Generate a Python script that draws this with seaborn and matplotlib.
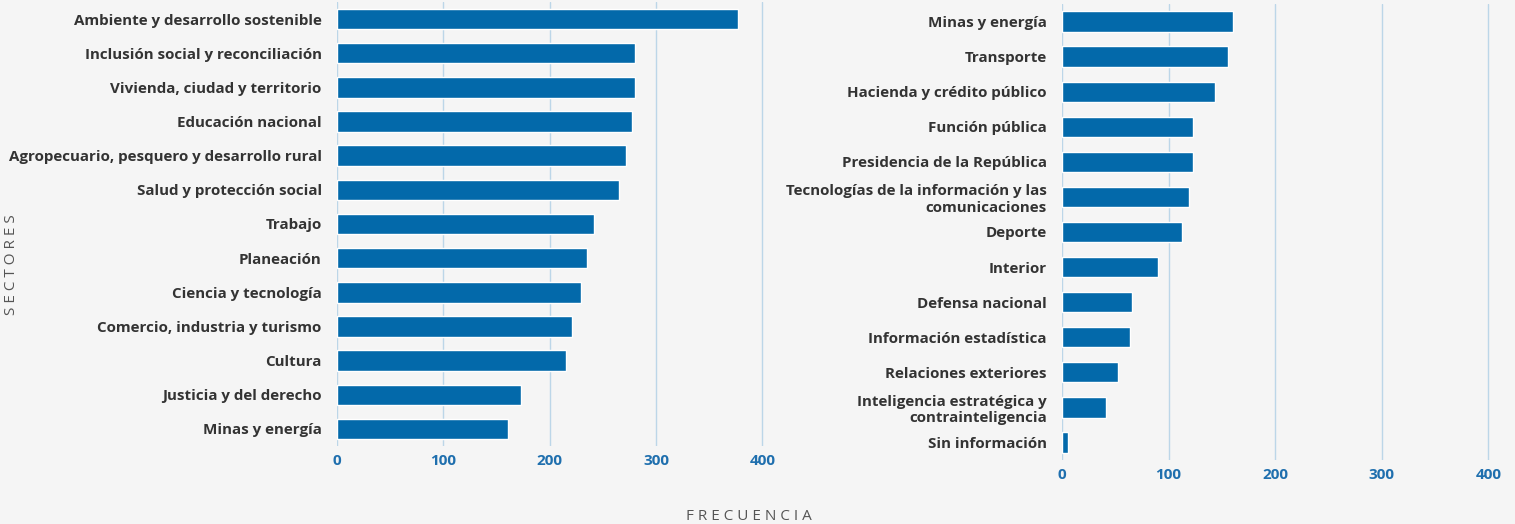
import matplotlib
matplotlib.use("Agg")
import matplotlib.pyplot as plt
import seaborn as sns
import pandas as pd

left_sectors = [
    "Ambiente y desarrollo sostenible",
    "Inclusión social y reconciliación",
    "Vivienda, ciudad y territorio",
    "Educación nacional",
    "Agropecuario, pesquero y desarrollo rural",
    "Salud y protección social",
    "Trabajo",
    "Planeación",
    "Ciencia y tecnología",
    "Comercio, industria y turismo",
    "Cultura",
    "Justicia y del derecho",
    "Minas y energía",
]
left_values = [377, 280, 280, 277, 272, 265, 242, 235, 229, 221, 215, 173, 161]

right_sectors = [
    "Minas y energía",
    "Transporte",
    "Hacienda y crédito público",
    "Función pública",
    "Presidencia de la República",
    "Tecnologías de la información y las\ncomunicaciones",
    "Deporte",
    "Interior",
    "Defensa nacional",
    "Información estadística",
    "Relaciones exteriores",
    "Inteligencia estratégica y\ncontrainteligencia",
    "Sin información",
]
right_values = [160, 156, 144, 123, 123, 119, 113, 90, 66, 64, 53, 41, 6]

x_ticks = [0, 100, 200, 300, 400]

BG = "#f5f5f5"
BAR = "#0369aa"
GRID = "#bcd6e8"
TXT = "#333333"
TICK = "#1f6fae"

sns.set_theme(style="white")
plt.rcParams["font.family"] = ["Open Sans", "DejaVu Sans"]

fig = plt.figure(figsize=(15.15, 5.24), dpi=100, facecolor=BG)
ax1 = fig.add_axes([337 / 1515, 1 - 446 / 524, 436 / 1515, 444 / 524])
ax2 = fig.add_axes([1062 / 1515, 1 - 460 / 524, 437 / 1515, 456 / 524])

for ax, cats, vals, w in [(ax1, left_sectors, left_values, 0.6),
                          (ax2, right_sectors, right_values, 0.58)]:
    df = pd.DataFrame({"sector": cats, "frecuencia": vals})
    sns.barplot(data=df, y="sector", x="frecuencia", orient="h", color=BAR,
                saturation=1, width=w, ax=ax, zorder=3)
    ax.set_facecolor(BG)
    ax.set_xlim(0, 410)
    ax.set_ylim(len(cats) - 0.5, -0.5)
    ax.set_xticks(x_ticks)
    ax.xaxis.grid(True, color=GRID, linewidth=1, zorder=0)
    ax.yaxis.grid(False)
    ax.set_axisbelow(True)
    for s in ax.spines.values():
        s.set_visible(False)
    ax.set_xlabel("")
    ax.set_ylabel("")
    ax.tick_params(axis="y", length=0, pad=11, labelsize=10.9, labelcolor=TXT)
    ax.tick_params(axis="x", length=0, pad=6, labelsize=11, labelcolor=TICK)
    for lab in ax.get_yticklabels():
        lab.set_fontweight("bold")
    for lab in ax.get_xticklabels():
        lab.set_fontweight("bold")

fig.text(749 / 1515, 1 - 516 / 524, "F R E C U E N C I A", ha="center", va="center",
         fontsize=11, color="#555555")
fig.text(12 / 1515, 1 - 265 / 524, "S E C T O R E S", ha="center", va="center",
         rotation=90, fontsize=11, color="#555555")

fig.savefig("out.png", dpi=100, facecolor=BG)
